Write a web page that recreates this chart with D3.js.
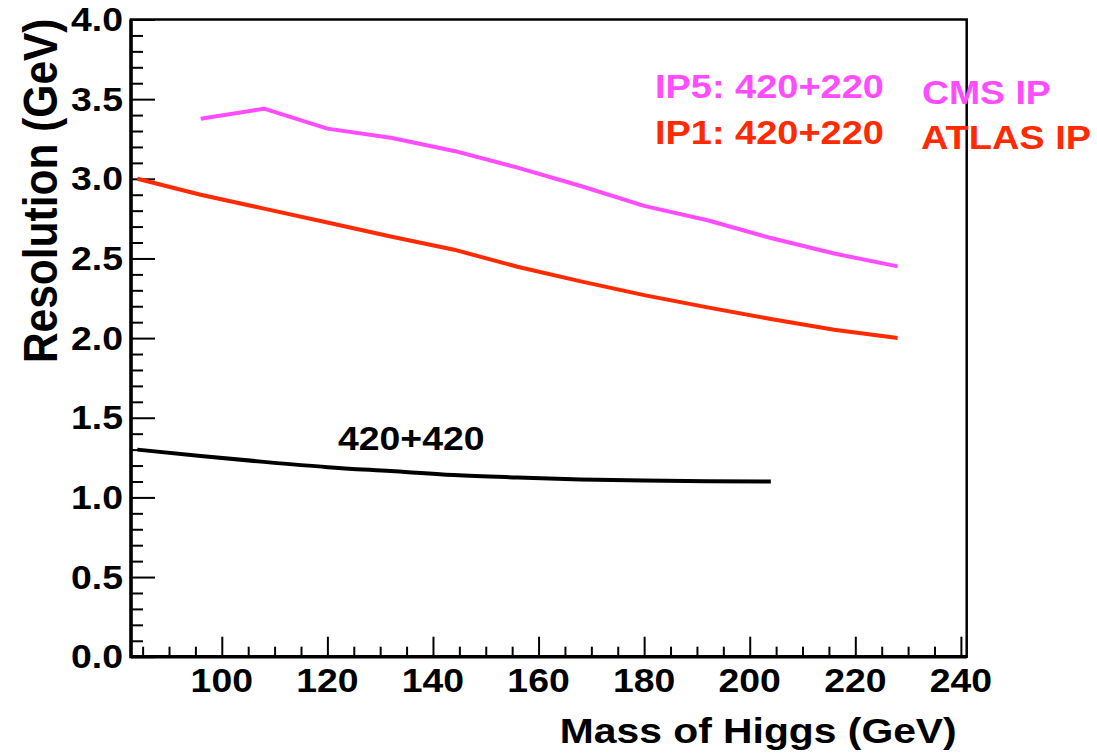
<!DOCTYPE html>
<html><head><meta charset="utf-8">
<script src="https://cdn.jsdelivr.net/npm/d3@7"></script>
<style>html,body{margin:0;padding:0;background:#fff;}svg{display:block;}text{font-family:"Liberation Sans",Arial,sans-serif;font-weight:bold;}</style>
</head><body>
<script>
const massIP = [84, 96, 108, 120, 132, 144, 156, 168, 180, 192, 204, 216, 228];
const resIP1 = [3.00, 2.90, 2.813, 2.726, 2.638, 2.555, 2.448, 2.356, 2.27, 2.193, 2.12, 2.053, 2.00];
const massIP5 = [96, 108, 120, 132, 144, 156, 168, 180, 192, 204, 216, 228];
const resIP5 = [3.377, 3.44, 3.315, 3.258, 3.175, 3.07, 2.955, 2.83, 2.74, 2.628, 2.531, 2.45];
const mass420 = [84, 96, 108, 120, 132, 144, 156, 168, 180, 192, 204];
const res420 = [1.30, 1.26, 1.223, 1.19, 1.165, 1.14, 1.125, 1.113, 1.106, 1.102, 1.100];
const xTicks = [100, 120, 140, 160, 180, 200, 220, 240];
const yTicks = [0, 0.5, 1.0, 1.5, 2.0, 2.5, 3.0, 3.5, 4.0];
const legendLabels = ["IP5: 420+220", "IP1: 420+220", "CMS IP", "ATLAS IP", "420+420"];

const W = 1097, H = 754;
const L = 131, R = 966.7, T = 19.5, B = 656.7;
const SX = 1.15;
const pink = "#ff4cff", red = "#ff2a00";

const svg = d3.select("body").append("svg").attr("width", W).attr("height", H);
const x = d3.scaleLinear().domain([82.8, 241.1]).range([L, R]);
const y = d3.scaleLinear().domain([0, 4]).range([B, T]);

// minor ticks
const xMinor = d3.range(85, 241, 5).filter(v => v % 20 !== 0);
const yMinor = d3.range(0, 41, 1).map(v => v / 10).filter(v => Math.round(v * 10) % 5 !== 0);

const xAxis = svg.append("g").attr("transform", `translate(0,${B})`)
  .call(d3.axisBottom(x).tickValues(xTicks).tickSizeInner(-20).tickSizeOuter(0).tickFormat(""));
xAxis.select(".domain").remove();
xAxis.selectAll(".tick line").attr("stroke", "#000").attr("stroke-width", 2);
const xAxisMinor = svg.append("g").attr("transform", `translate(0,${B})`)
  .call(d3.axisBottom(x).tickValues(xMinor).tickSizeInner(-10).tickSizeOuter(0).tickFormat(""));
xAxisMinor.select(".domain").remove();
xAxisMinor.selectAll(".tick line").attr("stroke", "#000").attr("stroke-width", 2);

const yAxis = svg.append("g").attr("transform", `translate(${L},0)`)
  .call(d3.axisLeft(y).tickValues(yTicks).tickSizeInner(-24).tickSizeOuter(0).tickFormat(""));
yAxis.select(".domain").remove();
yAxis.selectAll(".tick line").attr("stroke", "#000").attr("stroke-width", 2);
const yAxisMinor = svg.append("g").attr("transform", `translate(${L},0)`)
  .call(d3.axisLeft(y).tickValues(yMinor).tickSizeInner(-12).tickSizeOuter(0).tickFormat(""));
yAxisMinor.select(".domain").remove();
yAxisMinor.selectAll(".tick line").attr("stroke", "#000").attr("stroke-width", 2);

// frame
svg.append("rect").attr("x", L).attr("y", T).attr("width", R - L).attr("height", B - T)
  .attr("fill", "none").attr("stroke", "#000").attr("stroke-width", 2.5);
svg.append("line").attr("x1", L).attr("x2", L).attr("y1", T).attr("y2", B + 1.5).attr("stroke", "#000").attr("stroke-width", 3.5);
svg.append("line").attr("x1", L).attr("x2", R).attr("y1", B).attr("y2", B).attr("stroke", "#000").attr("stroke-width", 3.5);

// tick labels
function stretchedText(tx, ty, str, size, anchor, color) {
  const g = svg.append("g").attr("transform", `translate(${tx},${ty}) scale(${SX},1)`);
  g.append("text").attr("x", 0).attr("y", 0).attr("text-anchor", anchor)
    .attr("font-size", size).attr("fill", color || "#000").text(str);
  return g;
}
xTicks.forEach(v => stretchedText(x(v), 692, String(v), 32.5, "middle"));
yTicks.forEach(v => stretchedText(123, y(v) + 11.5, v.toFixed(1), 32.5, "end"));

// axis titles
stretchedText(R - 10, 743, "Mass of Higgs (GeV)", 35.5, "end");
svg.append("g").attr("transform", `translate(57,${T - 1}) rotate(-90) scale(1,${SX})`)
  .append("text").attr("text-anchor", "end").attr("font-size", 42.5).attr("fill", "#000").text("Resolution (GeV)");

// lines
const line = d3.line().x(d => x(d[0])).y(d => y(d[1]));
const smooth = d3.line().x(d => x(d[0])).y(d => y(d[1])).curve(d3.curveMonotoneX);
svg.append("path").datum(massIP5.map((m, i) => [m, resIP5[i]])).attr("d", line)
  .attr("fill", "none").attr("stroke", pink).attr("stroke-width", 4).attr("stroke-linejoin", "round");
svg.append("path").datum(massIP.map((m, i) => [m, resIP1[i]])).attr("d", line)
  .attr("fill", "none").attr("stroke", red).attr("stroke-width", 4).attr("stroke-linejoin", "round");
svg.append("path").datum(mass420.map((m, i) => [m, res420[i]])).attr("d", smooth)
  .attr("fill", "none").attr("stroke", "#000").attr("stroke-width", 4);

// legend texts
stretchedText(655, 98, legendLabels[0], 33, "start", pink);
stretchedText(655, 144, legendLabels[1], 33, "start", red);
stretchedText(922, 104, legendLabels[2], 32.5, "start", pink);
stretchedText(921, 149, legendLabels[3], 33, "start", red);
stretchedText(338, 450, legendLabels[4], 32.5, "start", "#000");
</script>
</body></html>
